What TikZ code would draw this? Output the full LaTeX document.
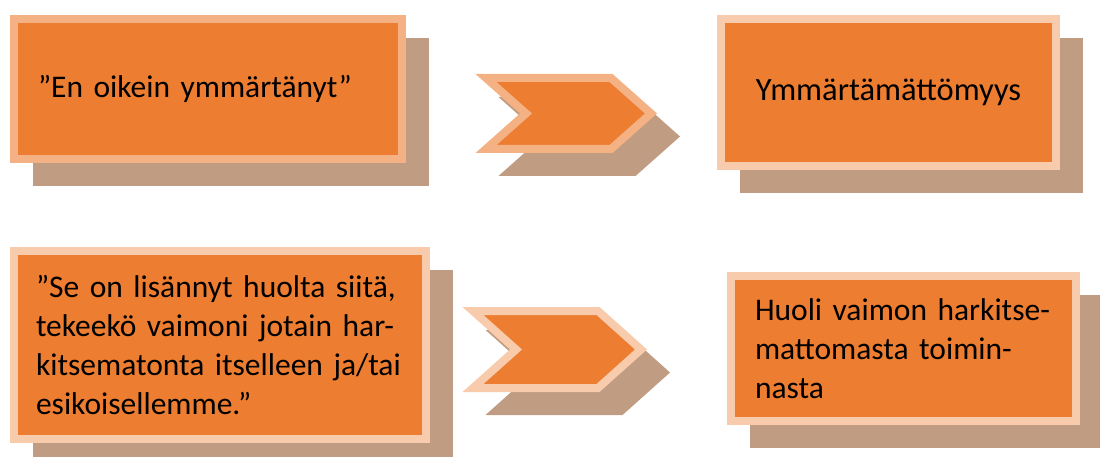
\documentclass[tikz,border=0pt]{standalone}
\usepackage{fontspec}
\setmainfont{Carlito}
\usetikzlibrary{backgrounds}
\definecolor{boxorange}{HTML}{ED7D31}
\definecolor{peachdark}{HTML}{F4B183}
\definecolor{peachlight}{HTML}{F8CBAD}
\definecolor{shadowbrown}{HTML}{C09C82}

\begin{document}
\begin{tikzpicture}[x=1pt, y=-1pt,
  box/.style={rectangle, fill=boxorange, draw=peachlight, line width=8pt, outer sep=4pt,
    inner xsep=24pt, inner ysep=0pt, font=\fontsize{31.5}{39}\selectfont, text=black},
  boxshadow/.style={fill=shadowbrown},
  chevron/.style={fill=boxorange, draw=peachlight, line width=8pt, line join=miter},
  chevshadow/.style={fill=shadowbrown, draw=shadowbrown, line width=8pt, line join=miter}]
\useasboundingbox (0,0) rectangle (1100,457);

% Boxes
\node[box, draw=peachdark, minimum width=388pt, minimum height=140pt, text width=340pt, align=left] (said) at (208,89) {”En oikein ymmärtänyt”};
\node[box, minimum width=335pt, minimum height=147pt, text width=287pt, align=center, font=\fontsize{32.5}{39}\selectfont] (meaning) at (888.5,92.5) {Ymmärtämättömyys};
\node[box, inner xsep=22pt, minimum width=412pt, minimum height=188pt, text width=368pt, align=left] (said2) at (220,345) {”Se on lisännyt huolta siitä,\\ tekeekö vaimoni jotain har-\\ kitsematonta itselleen ja/tai\\ esikoisellemme.”};
\node[box, minimum width=345pt, minimum height=145pt, text width=297pt, align=left] (meaning2) at (903.5,348.5) {Huoli vaimon harkitse-\\ mattomasta toimin-\\ nasta};

% Shadows
\begin{pgfonlayer}{background}
\foreach \b in {said, meaning, said2, meaning2}
  \fill[boxshadow] ([shift={(23,23)}]\b.north west) rectangle ([shift={(23,23)}]\b.south east);
\end{pgfonlayer}

% Chevrons
\draw[chevshadow, shift={(23,23)}] (486,78) -- ++(125,0) -- ++(40,35.5) -- ++(-40,35.5) -- ++(-125,0) -- ++(40,-35.5) -- cycle;
\draw[chevron, draw=peachdark] (486,78) -- ++(125,0) -- ++(40,35.5) -- ++(-40,35.5) -- ++(-125,0) -- ++(40,-35.5) -- cycle;
\draw[chevshadow, shift={(23,23)}] (473,311) -- ++(125,0) -- ++(43,38.5) -- ++(-43,38.5) -- ++(-125,0) -- ++(43,-38.5) -- cycle;
\draw[chevron] (473,311) -- ++(125,0) -- ++(43,38.5) -- ++(-43,38.5) -- ++(-125,0) -- ++(43,-38.5) -- cycle;
\end{tikzpicture}
\end{document}
